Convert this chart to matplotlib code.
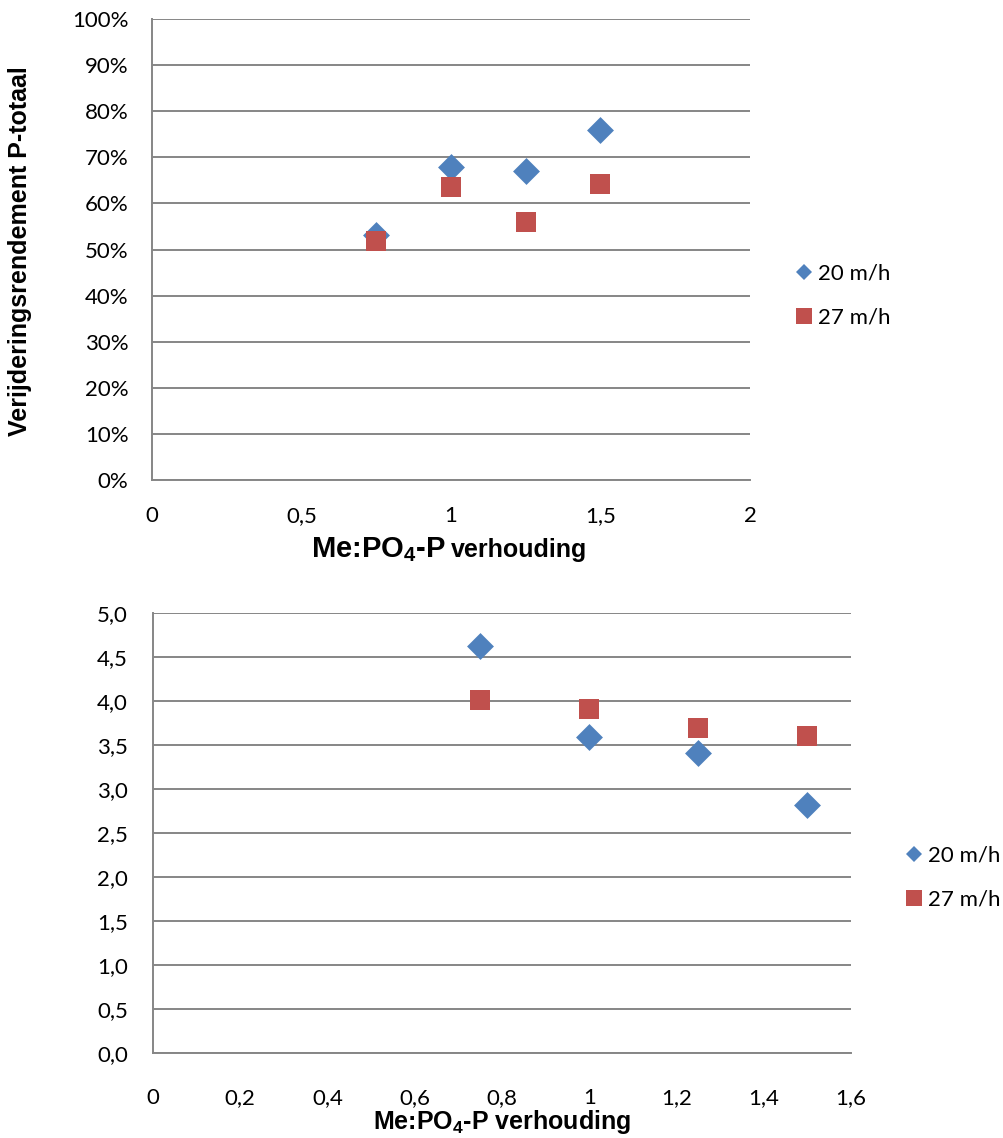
import numpy as np
import matplotlib
matplotlib.use("Agg")
from matplotlib import pyplot as plt
from matplotlib.lines import Line2D
from matplotlib.ticker import FuncFormatter

plt.rcParams['mathtext.default'] = 'regular'

# data
ratio = [0.75, 1.0, 1.25, 1.5]
rend_20 = [0.532, 0.678, 0.670, 0.760]
rend_27 = [0.518, 0.636, 0.560, 0.641]
val_20 = [4.63, 3.60, 3.41, 2.82]
val_27 = [4.01, 3.91, 3.70, 3.61]
series_labels = ["20 m/h", "27 m/h"]

blue = "#4F81BD"
red = "#C0504D"
grey = "#868686"
tickfont = "Lato"
labelfont = "Liberation Sans"

W, H = 1004, 1138
fig = plt.figure(figsize=(W / 100, H / 100), dpi=100)

ax1 = fig.add_axes([152 / W, 1 - 480 / H, (750 - 152) / W, (480 - 19) / H])
ax2 = fig.add_axes([153 / W, 1 - 1053.3 / H, (851 - 153) / W, (1053.3 - 613.3) / H])


def comma(v, pos, fmt):
    return (fmt % v).replace(".", ",")


def style(ax, ypad, xpad):
    ax.set_axisbelow(True)
    ax.grid(axis='y', color=grey, linewidth=1.4)
    ax.grid(axis='x', visible=False)
    for s in ['top', 'right']:
        ax.spines[s].set_visible(False)
    for s in ['left', 'bottom']:
        ax.spines[s].set_color(grey)
        ax.spines[s].set_linewidth(1.4)
    ax.tick_params(axis='y', length=0, pad=ypad)
    ax.tick_params(axis='x', length=0, pad=xpad)
    for lab in ax.get_xticklabels() + ax.get_yticklabels():
        lab.set_fontfamily(tickfont)
        lab.set_fontsize(16)


# top chart
ax1.scatter(ratio, rend_20, marker='D', s=13.7 ** 2, color=blue, linewidths=0, zorder=3)
ax1.scatter(ratio, rend_27, marker='s', s=13.9 ** 2, color=red, linewidths=0, zorder=3)
ax1.set_xlim(0, 2)
ax1.set_ylim(0, 1)
ax1.set_xticks(np.arange(0, 2.01, 0.5))
ax1.set_yticks(np.arange(0, 1.01, 0.1))
ax1.xaxis.set_major_formatter(FuncFormatter(lambda v, p: ("%g" % v).replace(".", ",")))
ax1.yaxis.set_major_formatter(FuncFormatter(lambda v, p: "%d%%" % round(v * 100)))
style(ax1, 17, 19)

# bottom chart
ax2.scatter(ratio, val_20, marker='D', s=13.7 ** 2, color=blue, linewidths=0, zorder=3)
ax2.scatter(ratio, val_27, marker='s', s=13.9 ** 2, color=red, linewidths=0, zorder=3)
ax2.set_xlim(0, 1.6)
ax2.set_ylim(0, 5)
ax2.set_xticks(np.arange(0, 1.61, 0.2))
ax2.set_yticks(np.arange(0, 5.01, 0.5))
ax2.xaxis.set_major_formatter(FuncFormatter(lambda v, p: ("%g" % round(v, 1)).replace(".", ",")))
ax2.yaxis.set_major_formatter(FuncFormatter(lambda v, p: comma(v, p, "%.1f")))
style(ax2, 18, 25)

# legends
handles = [Line2D([], [], marker='D', ms=8.5, color=blue, linestyle='none', markeredgewidth=0),
           Line2D([], [], marker='s', ms=12.2, color=red, linestyle='none', markeredgewidth=0)]
for ax, x0, yc in [(ax1, 797, 296), (ax2, 907, 877.5)]:
    ax.legend(handles, series_labels, loc='center left', bbox_to_anchor=(x0 / W, 1 - yc / H),
              bbox_transform=fig.transFigure, frameon=False, handlelength=0.6,
              handletextpad=0.33, labelspacing=1.08, borderpad=0, borderaxespad=0,
              prop={'family': tickfont, 'size': 16})

# axis titles
fig.text(20 / W, 1 - 251 / H, "Verijderingsrendement P-totaal", rotation=90,
         ha='center', va='center', fontsize=18, fontweight='bold', family=labelfont)
fig.text(446 / W, 1 - 557 / H, "Me:PO$_4$-P", ha='right', va='baseline',
         fontsize=21, fontweight='bold', family=labelfont)
fig.text(451 / W, 1 - 557 / H, "verhouding", ha='left', va='baseline',
         fontsize=18, fontweight='bold', family=labelfont)
fig.text(502 / W, 1 - 1129 / H, "Me:PO$_4$-P verhouding", ha='center', va='baseline',
         fontsize=18, fontweight='bold', family=labelfont)

fig.savefig("out.png", dpi=100, facecolor='white')
